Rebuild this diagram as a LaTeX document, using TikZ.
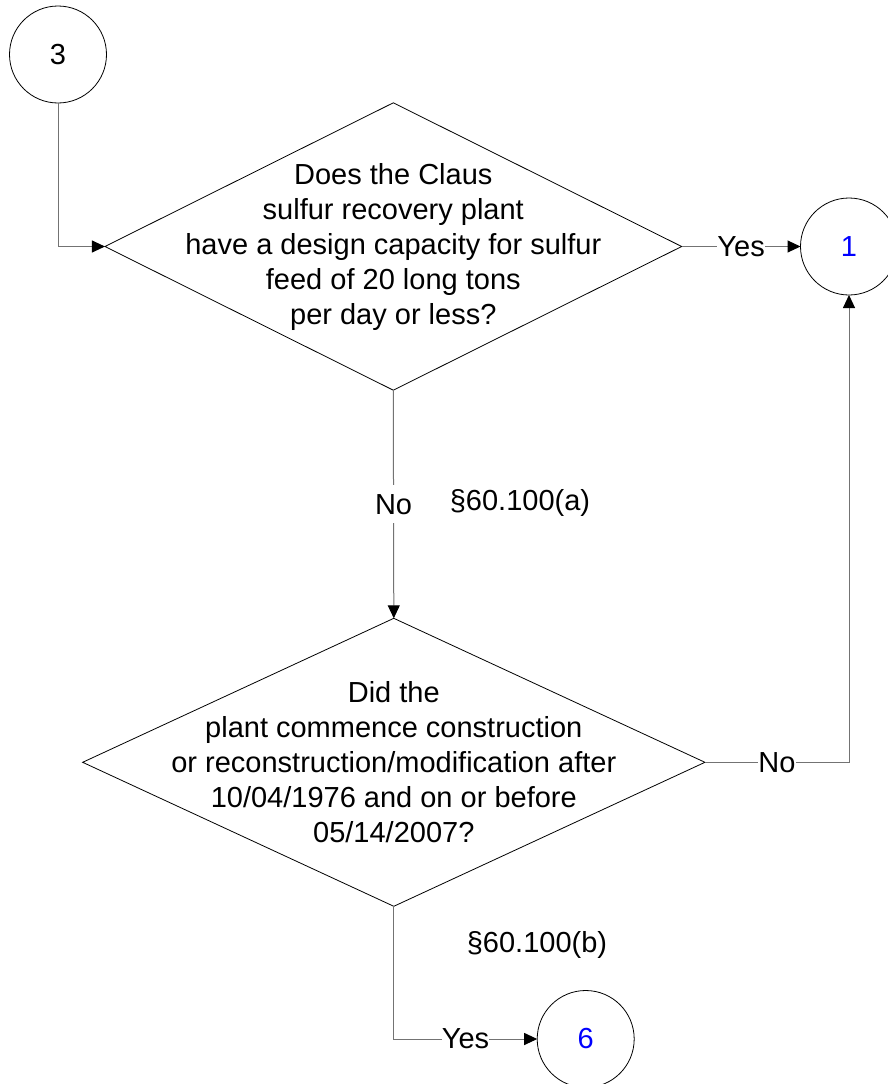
\documentclass[tikz,border=0pt]{standalone}
\usepackage{fontspec}
\setmainfont{Liberation Sans}
\usetikzlibrary{shapes.geometric,arrows.meta}

\begin{document}
\begin{tikzpicture}[x=1pt, y=-1pt,
every node/.style={inner sep=1pt, font=\fontsize{29}{35}\selectfont},
decision/.style={diamond, draw, line width=0.8pt, inner sep=0pt, outer sep=0pt},
offpage/.style={circle, draw, line width=0.8pt, minimum size=97pt, inner sep=0pt, outer sep=0pt},
flow/.style={draw=black!55, line width=1pt, -{Triangle[length=13pt,width=12pt,color=black]}},
answer/.style={fill=white, inner xsep=0pt, inner ysep=9pt}
]
\useasboundingbox (0,0) rectangle (887,1084);

\node[offpage] (c3) at (58,54.5) {3};
\node[offpage, text=blue] (c1) at (849,246.5) {1};
\node[offpage, text=blue] (c6) at (585.7,1039) {6};

\node[decision, minimum width=576.7pt, minimum height=287.4pt,
  label={[align=center]center:Does the Claus\\sulfur recovery plant\\have a design capacity for sulfur\\feed of 20 long tons\\per day or less?}]
  (q1) at (393.3,246.5) {};
\node[decision, minimum width=622.3pt, minimum height=288pt,
  label={[align=center]center:Did the\\plant commence construction\\or reconstruction/modification after\\10/04/1976 and on or before\\05/14/2007?}]
  (q2) at (393.8,762.3) {};

\node (refa) at (520,503) {§60.100(a)};
\node (refb) at (537,945) {§60.100(b)};

\draw[flow] (c3) |- (q1.west);
\draw[flow] (q1.east) -- node[answer]{Yes} (c1);
\draw[flow] (q1.south) -- node[answer]{No} (q2.north);
\draw[flow] (q2.east) -| node[answer, pos=0.25]{No} (c1);
\draw[flow] (q2.south) |- node[answer, pos=0.75]{Yes} (c6);

%\draw[dashed] (q1.south) -- (refa);
\end{tikzpicture}
\end{document}
